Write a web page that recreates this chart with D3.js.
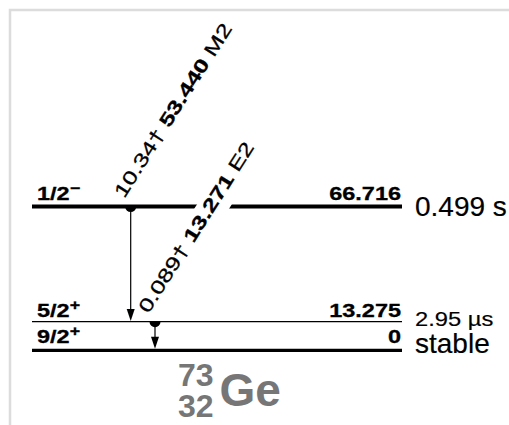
<!DOCTYPE html>
<html><head><meta charset="utf-8">
<script src="https://cdn.jsdelivr.net/npm/d3@7"></script>
<style>html,body{margin:0;padding:0;background:#fff;} svg{display:block;} text{white-space:pre;}</style>
</head><body>
<svg id="chart" width="509" height="425"></svg>
<script>
// ---- data ----
const levelEnergies = [66.716, 13.275, 0];
const levelEnergyLabels = ["66.716", "13.275", "0"];
const levelSpins = ["1/2", "5/2", "9/2"];
const levelParities = ["\u2212", "+", "+"];
const halfLives = ["0.499 s", "2.95 \u00b5s", "stable"];
const gammaFromLevel = [0, 1];
const gammaToLevel = [1, 2];
const gammaIntensities = ["10.34\u2020", "0.089\u2020"];
const gammaEnergies = ["53.440", "13.271"];
const gammaMultipolarities = ["M2", "E2"];
const nuclideMass = "73";
const nuclideCharge = "32";
const nuclideSymbol = "Ge";

// ---- styles ----
const W = 509, H = 425;
const FONT = "'Liberation Sans', Arial, Helvetica, sans-serif";
const levelLineWidths = [3.8, 1.3, 3.3];
const levelLabelOffsets = [6.5, 4.7, 7.3];
const halfLifeSizes = [28, 21, 28];
const halfLifeScales = [1, 1.13, 1];
const halfLifeOffsets = [9.5, 4.3, 2.7];
const LABEL_SIZE = 18.5, LABEL_SX = 1.27;
const GAMMA_SIZE = 19, GAMMA_SX = 1.32;
const GAMMA_ANGLE = -57.5;
const TEXT_STROKE = 0.3;

const svg = d3.select("#chart");
const defs = svg.append("defs");

const y = d3.scaleLinear().domain([0, d3.max(levelEnergies)]).range([350.3, 206.5]);
const x = d3.scaleLinear().domain([0, 1]).range([32, 402]);
const gx = d3.scalePoint().domain(d3.range(gammaEnergies.length)).range([130.7, 155]);

// frame
svg.append("rect").attr("x", 10).attr("y", 10).attr("width", 700).attr("height", 700)
  .attr("fill", "none").attr("stroke", "#dcdcdc").attr("stroke-width", 2.5);

// gamma labels (rendered first to compute masks)
const labelLayer = svg.append("g").attr("class", "gamma-labels");
const labelBoxes = [];
gammaEnergies.forEach((e, i) => {
  const fromL = gammaFromLevel[i];
  const ax = gx(i) - 6.5, ay = y(levelEnergies[fromL]) - 7.5;
  const tr = `translate(${ax},${ay}) rotate(${GAMMA_ANGLE}) scale(${GAMMA_SX},1)`;
  const t = labelLayer.append("text").attr("transform", tr)
    .attr("font-family", FONT).attr("font-size", GAMMA_SIZE).attr("fill", "#000")
    .attr("stroke", "#000").attr("stroke-width", TEXT_STROKE);
  t.append("tspan").text(gammaIntensities[i] + " ");
  t.append("tspan").attr("font-weight", "bold").text(e);
  t.append("tspan").text(" " + gammaMultipolarities[i]);
  const bb = t.node().getBBox();
  labelBoxes.push({ tr, bb, fromL });
});

// masks for level lines (gaps where a label crosses a higher level)
levelEnergies.forEach((en, li) => {
  const m = defs.append("mask").attr("id", "lvlmask" + li)
    .attr("maskUnits", "userSpaceOnUse").attr("x", 0).attr("y", 0).attr("width", W).attr("height", H);
  m.append("rect").attr("x", 0).attr("y", 0).attr("width", W).attr("height", H).attr("fill", "#fff");
  labelBoxes.filter(b => b.fromL > li).forEach(b => {
    m.append("rect").attr("transform", b.tr)
      .attr("x", b.bb.x).attr("y", b.bb.y - 1)
      .attr("width", b.bb.width).attr("height", b.bb.height + 8).attr("fill", "#000");
  });
});

// level lines
const levels = svg.append("g").attr("class", "levels");
levelEnergies.forEach((en, i) => {
  levels.append("line")
    .attr("x1", x(0)).attr("x2", x(1)).attr("y1", y(en)).attr("y2", y(en))
    .attr("stroke", "#000").attr("stroke-width", levelLineWidths[i])
    .attr("mask", `url(#lvlmask${i})`);
});

// level labels: spin/parity (left), energy (right), half-life (outside)
levelEnergies.forEach((en, i) => {
  const by = y(en) - levelLabelOffsets[i];
  const sp = levels.append("text")
    .attr("transform", `translate(${x(0) + 5},${by}) scale(${LABEL_SX},1)`)
    .attr("font-family", FONT).attr("font-weight", "bold").attr("font-size", LABEL_SIZE)
    .attr("stroke", "#000").attr("stroke-width", TEXT_STROKE);
  sp.append("tspan").text(levelSpins[i]);
  sp.append("tspan").attr("font-size", 14).attr("dy", -7).text(levelParities[i]);

  levels.append("text")
    .attr("transform", `translate(${x(1) - 1},${by}) scale(${LABEL_SX},1)`)
    .attr("text-anchor", "end")
    .attr("font-family", FONT).attr("font-weight", "bold").attr("font-size", LABEL_SIZE)
    .attr("stroke", "#000").attr("stroke-width", TEXT_STROKE)
    .text(levelEnergyLabels[i]);

  levels.append("text")
    .attr("transform", `translate(${x(1) + 13},${y(en) + halfLifeOffsets[i]}) scale(${halfLifeScales[i]},1)`)
    .attr("font-family", FONT).attr("font-size", halfLifeSizes[i])
    .attr("stroke", "#000").attr("stroke-width", TEXT_STROKE * 0.6)
    .text(halfLives[i]);
});

// gamma arrows
const arrows = svg.append("g").attr("class", "gammas");
gammaEnergies.forEach((e, i) => {
  const xx = gx(i);
  const y0 = y(levelEnergies[gammaFromLevel[i]]);
  const toL = gammaToLevel[i];
  const tip = y(levelEnergies[toL]) - levelLineWidths[toL] / 2;
  const headLen = 12, headHalf = 4;
  arrows.append("line").attr("x1", xx).attr("x2", xx).attr("y1", y0).attr("y2", tip - headLen + 1)
    .attr("stroke", "#000").attr("stroke-width", 1.2);
  arrows.append("path")
    .attr("d", `M${xx},${tip} L${xx - headHalf},${tip - headLen} L${xx + headHalf},${tip - headLen} Z`)
    .attr("fill", "#000");
  const r = 5.5;
  arrows.append("path")
    .attr("d", `M${xx - r},${y0} A${r},${r} 0 0 0 ${xx + r},${y0} Z`)
    .attr("fill", "#000");
});

// nuclide label
const nuc = svg.append("g").attr("fill", "#767676").attr("font-family", FONT).attr("font-weight", "bold");
nuc.append("text").attr("x", 178).attr("y", 386).attr("font-size", 32).text(nuclideMass);
nuc.append("text").attr("x", 178).attr("y", 417).attr("font-size", 32).text(nuclideCharge);
nuc.append("text").attr("x", 219.5).attr("y", 406).attr("font-size", 46).text(nuclideSymbol);
</script>
</body></html>
